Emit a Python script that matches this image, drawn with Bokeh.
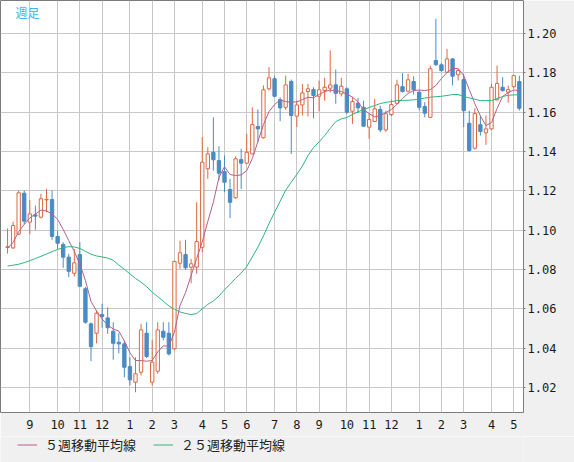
from bokeh.plotting import figure
from bokeh.layouts import column
from bokeh.models import (ColumnDataSource, FixedTicker, Legend, LegendItem, Label,
                          NumeralTickFormatter)
from bokeh.embed import file_html
from bokeh.resources import INLINE

# ---- data (weekly candles) ----
opens = [1.0912, 1.0910, 1.0980, 1.1188, 1.1041, 1.1078, 1.1066, 1.1154, 1.1156, 1.0968,
         1.0927, 1.0863, 1.0781, 1.0876, 1.0702, 1.0524, 1.0476, 1.0571, 1.0554, 1.0486,
         1.0430, 1.0422, 1.0307, 1.0227, 1.0278, 1.0476, 1.0227, 1.0283, 1.0486, 1.0476,
         1.0397, 1.0832, 1.0876, 1.0812, 1.0812, 1.0913, 1.1312, 1.1396, 1.1354, 1.1298,
         1.1207, 1.1165, 1.1359, 1.1341, 1.1388, 1.1527, 1.1470, 1.1719, 1.1770, 1.1664,
         1.1625, 1.1756, 1.1580, 1.1637, 1.1705, 1.1715, 1.1681, 1.1710, 1.1722, 1.1739,
         1.1693, 1.1719, 1.1605, 1.1646, 1.1625, 1.1524, 1.1553, 1.1614, 1.1510, 1.1588,
         1.1645, 1.1730, 1.1707, 1.1756, 1.1702, 1.1629, 1.1574, 1.1863, 1.1841, 1.1803,
         1.1871, 1.1790, 1.1766, 1.1544, 1.1417, 1.1536, 1.1495, 1.1515, 1.1663, 1.1727,
         1.1702, 1.1730, 1.1756]
highs = [1.1009, 1.1044, 1.1202, 1.1202, 1.1154, 1.1125, 1.1185, 1.1210, 1.1202, 1.0998,
         1.0939, 1.0880, 1.0905, 1.0939, 1.0712, 1.0530, 1.0592, 1.0626, 1.0608, 1.0532,
         1.0476, 1.0439, 1.0354, 1.0354, 1.0524, 1.0532, 1.0443, 1.0532, 1.0532, 1.0532,
         1.0845, 1.0947, 1.0951, 1.0854, 1.1142, 1.1473, 1.1422, 1.1574, 1.1427, 1.1380,
         1.1261, 1.1375, 1.1414, 1.1490, 1.1625, 1.1614, 1.1736, 1.1829, 1.1786, 1.1676,
         1.1786, 1.1766, 1.1659, 1.1744, 1.1744, 1.1727, 1.1761, 1.1775, 1.1914, 1.1817,
         1.1775, 1.1727, 1.1676, 1.1673, 1.1659, 1.1592, 1.1668, 1.1634, 1.1608, 1.1664,
         1.1765, 1.1798, 1.1795, 1.1783, 1.1710, 1.1651, 1.1837, 1.2075, 1.1850, 1.1922,
         1.1875, 1.1821, 1.1795, 1.1608, 1.1620, 1.1583, 1.1583, 1.1744, 1.1837, 1.1778,
         1.1736, 1.1790, 1.1786]
lows = [1.0881, 1.0905, 1.0975, 1.1029, 1.0981, 1.1002, 1.1060, 1.1091, 1.0951, 1.0905,
        1.0809, 1.0761, 1.0764, 1.0710, 1.0525, 1.0334, 1.0425, 1.0504, 1.0473, 1.0341,
        1.0374, 1.0252, 1.0210, 1.0176, 1.0261, 1.0350, 1.0210, 1.0270, 1.0440, 1.0363,
        1.0390, 1.0804, 1.0798, 1.0730, 1.0778, 1.0888, 1.1261, 1.1303, 1.1253, 1.1193,
        1.1061, 1.1160, 1.1210, 1.1335, 1.1385, 1.1447, 1.1466, 1.1710, 1.1678, 1.1554,
        1.1612, 1.1388, 1.1524, 1.1583, 1.1578, 1.1569, 1.1605, 1.1659, 1.1700, 1.1643,
        1.1680, 1.1590, 1.1541, 1.1595, 1.1527, 1.1465, 1.1550, 1.1498, 1.1500, 1.1580,
        1.1640, 1.1700, 1.1700, 1.1690, 1.1610, 1.1574, 1.1570, 1.1835, 1.1805, 1.1800,
        1.1736, 1.1761, 1.1524, 1.1400, 1.1410, 1.1481, 1.1434, 1.1510, 1.1660, 1.1705,
        1.1648, 1.1720, 1.1608]
closes = [1.0916, 1.1024, 1.1190, 1.1046, 1.1083, 1.1071, 1.1160, 1.1157, 1.0968, 1.0934,
          1.0863, 1.0791, 1.0834, 1.0715, 1.0532, 1.0408, 1.0578, 1.0561, 1.0504, 1.0425,
          1.0422, 1.0303, 1.0239, 1.0270, 1.0493, 1.0358, 1.0329, 1.0493, 1.0456, 1.0371,
          1.0841, 1.0885, 1.0809, 1.0829, 1.0942, 1.1346, 1.1388, 1.1358, 1.1290, 1.1244,
          1.1142, 1.1363, 1.1341, 1.1396, 1.1537, 1.1515, 1.1714, 1.1775, 1.1681, 1.1622,
          1.1739, 1.1583, 1.1637, 1.1698, 1.1719, 1.1685, 1.1714, 1.1727, 1.1739, 1.1696,
          1.1732, 1.1600, 1.1654, 1.1622, 1.1529, 1.1563, 1.1617, 1.1510, 1.1592, 1.1639,
          1.1739, 1.1705, 1.1765, 1.1714, 1.1625, 1.1595, 1.1821, 1.1842, 1.1812, 1.1871,
          1.1783, 1.1812, 1.1608, 1.1405, 1.1593, 1.1502, 1.1515, 1.1727, 1.1746, 1.1710,
          1.1715, 1.1786, 1.1620]
ma5 = [1.0909, 1.0937, 1.0993, 1.1029, 1.1062, 1.1082, 1.1102, 1.1098, 1.1083, 1.1055,
       1.1004, 1.0947, 1.0892, 1.0827, 1.0744, 1.0638, 1.0589, 1.0549, 1.0517, 1.0498,
       1.0487, 1.0437, 1.0377, 1.0337, 1.0337, 1.0334, 1.0337, 1.0381, 1.0412, 1.0410,
       1.0482, 1.0617, 1.0683, 1.0770, 1.0856, 1.0940, 1.1044, 1.1143, 1.1268, 1.1323,
       1.1283, 1.1278, 1.1281, 1.1303, 1.1364, 1.1451, 1.1537, 1.1603, 1.1639, 1.1662,
       1.1654, 1.1652, 1.1652, 1.1664, 1.1676, 1.1673, 1.1690, 1.1705, 1.1712, 1.1710,
       1.1705, 1.1692, 1.1677, 1.1652, 1.1614, 1.1593, 1.1576, 1.1583, 1.1598, 1.1614,
       1.1639, 1.1670, 1.1695, 1.1710, 1.1713, 1.1710, 1.1715, 1.1736, 1.1771, 1.1802,
       1.1822, 1.1822, 1.1786, 1.1715, 1.1644, 1.1581, 1.1532, 1.1547, 1.1619, 1.1680,
       1.1700, 1.1713, 1.1710]
ma25 = [1.0818, 1.0822, 1.0827, 1.0835, 1.0845, 1.0856, 1.0867, 1.0879, 1.0891, 1.0902,
        1.0912, 1.0916, 1.0915, 1.0907, 1.0893, 1.0878, 1.0869, 1.0864, 1.0858, 1.0847,
        1.0823, 1.0801, 1.0778, 1.0755, 1.0736, 1.0713, 1.0685, 1.0662, 1.0639, 1.0615,
        1.0599, 1.0584, 1.0577, 1.0571, 1.0576, 1.0600, 1.0623, 1.0640, 1.0665, 1.0697,
        1.0725, 1.0755, 1.0782, 1.0815, 1.0864, 1.0914, 1.0971, 1.1034, 1.1091, 1.1147,
        1.1203, 1.1244, 1.1284, 1.1326, 1.1379, 1.1420, 1.1449, 1.1481, 1.1518, 1.1552,
        1.1566, 1.1573, 1.1588, 1.1602, 1.1613, 1.1624, 1.1634, 1.1644, 1.1650, 1.1654,
        1.1659, 1.1660, 1.1661, 1.1663, 1.1667, 1.1672, 1.1676, 1.1679, 1.1681, 1.1685,
        1.1690, 1.1690, 1.1680, 1.1673, 1.1666, 1.1659, 1.1659, 1.1659, 1.1669, 1.1680,
        1.1686, 1.1688, 1.1688]
month_weeks = [4, 9, 13, 17, 22, 26, 30, 35, 39, 43, 48, 52, 56, 61, 65, 69, 74, 78, 82, 87, 91]
month_labels = ["9", "10", "11", "12", "1", "2", "3", "4", "5", "6", "7",
                "8", "9", "10", "11", "12", "1", "2", "3", "4", "5"]
price_ticks = [1.02, 1.04, 1.06, 1.08, 1.10, 1.12, 1.14, 1.16, 1.18, 1.20]
period_label = "週足"
legend_labels = ["５週移動平均線", "２５週移動平均線"]

# ---- styling ----
RED = "#dc6843"
BLUE = "#4a8bc4"
PINK = "#b65e8b"
GREEN = "#2fb57b"
GRID = "#c8c8c8"
PANEL = "#f0f0f0"
FRAME = "#7c7c7c"

weeks = list(range(len(closes)))
X_LO, X_HI = -1.267, 92.75
Y_LO, Y_HI = 1.0073, 1.2168
W = 574
RIGHT_W = 51
FRAME_H = 412
AXIS_H = 24
H_MAIN = FRAME_H + AXIS_H
H_LEG = 462 - H_MAIN


def subset(flag):
    idx = [i for i in weeks if (closes[i] >= opens[i]) == flag]
    return ColumnDataSource(dict(
        x=[weeks[i] for i in idx],
        top=[max(opens[i], closes[i]) for i in idx],
        bottom=[min(opens[i], closes[i]) for i in idx],
        high=[highs[i] for i in idx],
        low=[lows[i] for i in idx],
    ))


up_src = subset(True)
dn_src = subset(False)

p = figure(width=W, height=H_MAIN, x_range=(X_LO, X_HI), y_range=(Y_LO, Y_HI),
           y_axis_location="right", output_backend="svg", toolbar_location=None,
           min_border_left=0, min_border_top=0, min_border_right=RIGHT_W,
           min_border_bottom=AXIS_H)
p.background_fill_color = "white"
p.border_fill_color = PANEL
p.outline_line_color = FRAME
p.outline_line_width = 1

p.xgrid.ticker = FixedTicker(ticks=month_weeks)
p.ygrid.ticker = FixedTicker(ticks=price_ticks)
p.grid.grid_line_color = GRID
p.grid.grid_line_width = 1

p.xaxis.ticker = FixedTicker(ticks=month_weeks)
p.xaxis.major_label_overrides = {w: l for w, l in zip(month_weeks, month_labels)}
p.yaxis.ticker = FixedTicker(ticks=price_ticks)
p.yaxis.formatter = NumeralTickFormatter(format="0.00")
for ax in (p.xaxis, p.yaxis):
    ax.axis_label = None
    ax.axis_line_color = None
    ax.minor_tick_line_color = None
    ax.major_label_text_font = "DejaVu Sans Mono"
    ax.major_label_text_font_size = "12px"
    ax.major_label_text_color = "#1a1a1a"
p.xaxis.major_tick_line_color = None
p.xaxis.major_tick_in = 0
p.xaxis.major_tick_out = 0
p.xaxis.major_label_standoff = 7
p.yaxis.major_tick_line_color = FRAME
p.yaxis.major_tick_in = 0
p.yaxis.major_tick_out = 2
p.yaxis.major_label_standoff = 2

# wicks
p.segment(x0="x", y0="low", x1="x", y1="high", source=up_src, line_color=RED, line_width=1)
p.segment(x0="x", y0="low", x1="x", y1="high", source=dn_src, line_color=BLUE, line_width=1)
# bodies
p.vbar(x="x", top="top", bottom="bottom", width=0.6, source=up_src,
       fill_color="white", line_color=RED, line_width=1)
p.vbar(x="x", top="top", bottom="bottom", width=0.6, source=dn_src,
       fill_color=BLUE, line_color=BLUE, line_width=1)

# moving averages
p.line(weeks, ma5, line_color=PINK, line_width=1)
p.line(weeks, ma25, line_color=GREEN, line_width=1)

frame_w = W - RIGHT_W
px_per_week = frame_w / (X_HI - X_LO)
px_per_unit = FRAME_H / (Y_HI - Y_LO)
p.add_layout(Label(x=X_LO + 15 / px_per_week, y=Y_HI - 3 / px_per_unit, text=period_label,
                   text_font="Noto Sans CJK JP", text_font_size="12px",
                   text_color="#3cb6e6", text_baseline="top"))

# legend strip below the chart (swatch renderers sit outside the strip's visible range)
q = figure(width=W, height=H_LEG, x_range=(0, 1), y_range=(0, 1),
           output_backend="svg", toolbar_location=None,
           x_axis_location=None, y_axis_location=None,
           min_border_left=0, min_border_right=0, min_border_top=0, min_border_bottom=0)
q.background_fill_color = PANEL
q.border_fill_color = PANEL
q.outline_line_color = None
q.grid.visible = False
l5 = q.line(x=[5, 6], y=[5, 6], line_color=PINK, line_width=1)
l25 = q.line(x=[5, 6], y=[5, 6], line_color=GREEN, line_width=1)
legend = Legend(items=[LegendItem(label=legend_labels[0], renderers=[l5]),
                       LegendItem(label=legend_labels[1], renderers=[l25])],
                orientation="horizontal", location=(17, 8), margin=0, padding=0,
                spacing=17, glyph_width=20, glyph_height=15, label_height=15,
                label_standoff=8, label_text_font="Noto Sans CJK JP",
                label_text_font_size="13px", label_text_color="#222222",
                background_fill_alpha=0, border_line_alpha=0)
q.add_layout(legend)

layout = column(p, q, spacing=0)
open("out.html", "w").write(file_html(layout, INLINE))
